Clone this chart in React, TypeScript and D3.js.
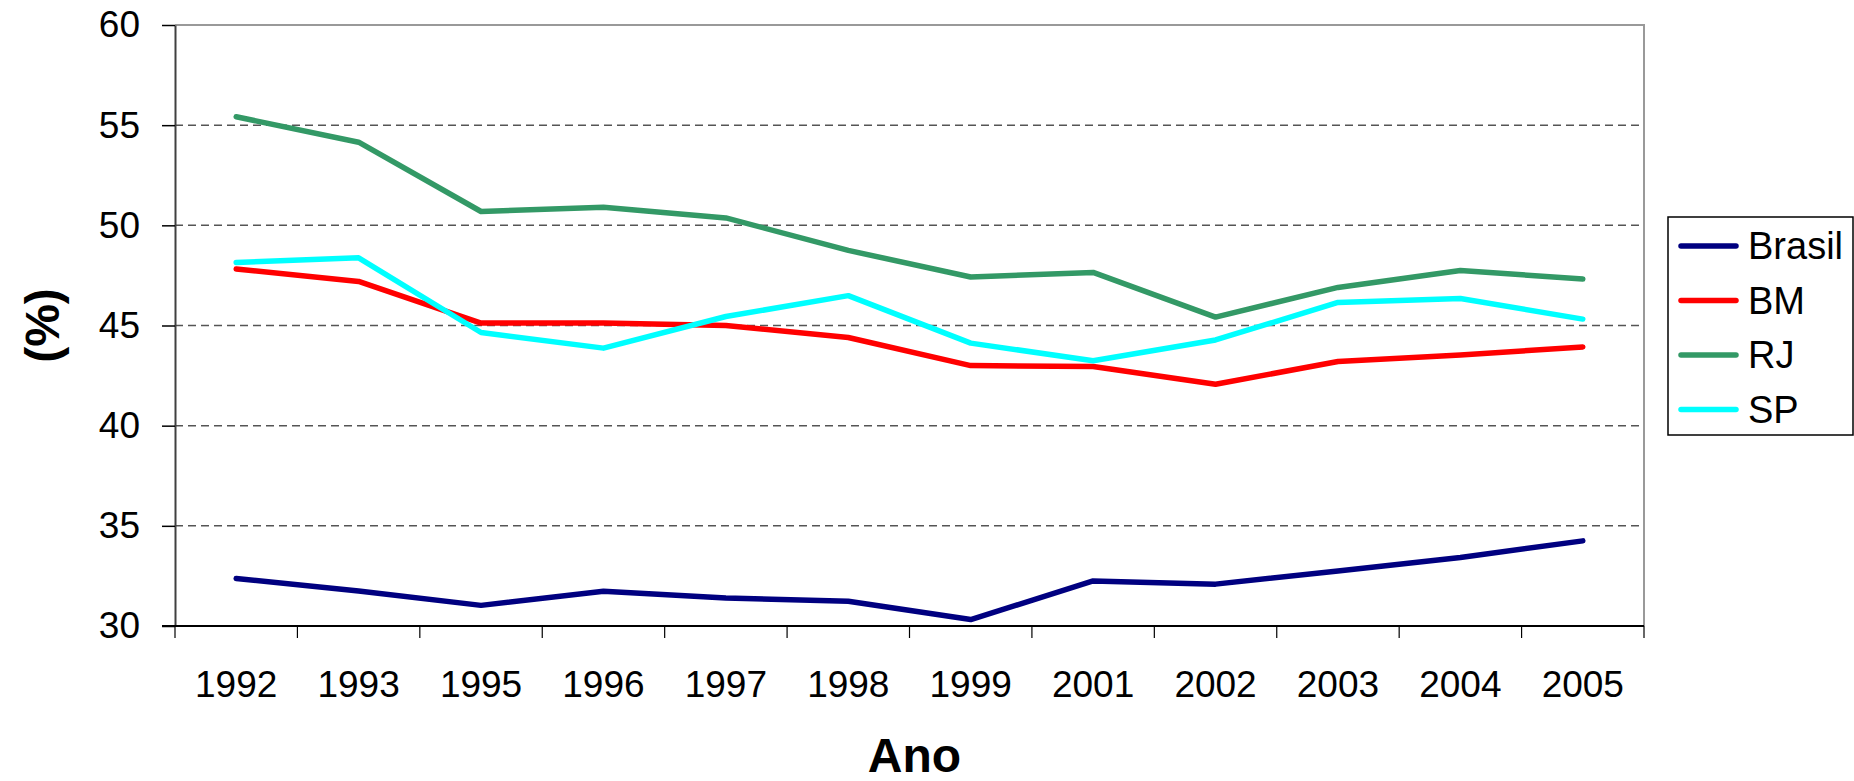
import { useEffect, useRef } from 'react'
import * as d3 from 'd3'

const years = ['1992', '1993', '1995', '1996', '1997', '1998', '1999', '2001', '2002', '2003', '2004', '2005']

const brasil = [32.37, 31.75, 31.03, 31.73, 31.4, 31.24, 30.32, 32.25, 32.09, 32.75, 33.42, 34.25]
const bm = [47.82, 47.2, 45.12, 45.12, 45.0, 44.4, 43.0, 42.95, 42.07, 43.2, 43.53, 43.93]
const rj = [55.42, 54.15, 50.69, 50.9, 50.37, 48.75, 47.42, 47.65, 45.42, 46.9, 47.75, 47.32]
const sp = [48.15, 48.38, 44.65, 43.87, 45.45, 46.49, 44.12, 43.24, 44.28, 46.15, 46.35, 45.32]

const seriesNames = ['Brasil', 'BM', 'RJ', 'SP']
const seriesColors = ['#000080', '#FF0000', '#339966', '#00FFFF']
const yTicks = [30, 35, 40, 45, 50, 55, 60]

const W = 1854
const H = 781
const font = "'Liberation Sans', Arial, sans-serif"

const App = () => {
  const svgRef = useRef<SVGSVGElement>(null)

  useEffect(() => {
    if (!svgRef.current) return
    const svg = d3.select(svgRef.current)
    svg.selectAll('*').remove()

    const plot = { left: 175, right: 1644, top: 25, bottom: 626 }

    const x = d3.scaleBand<string>().domain(years).range([plot.left, plot.right])
    const y = d3.scaleLinear().domain([30, 60]).range([plot.bottom, plot.top])

    // dashed gridlines
    svg.append('g')
      .selectAll('line')
      .data(yTicks.filter(t => t > 30 && t < 60))
      .enter()
      .append('line')
      .attr('x1', plot.left)
      .attr('x2', plot.right)
      .attr('y1', d => y(d))
      .attr('y2', d => y(d))
      .attr('stroke', '#555')
      .attr('stroke-width', 1.5)
      .attr('stroke-dasharray', '8,5')

    // top and right border of the plot area
    svg.append('path')
      .attr('d', `M${plot.left},${plot.top}H${plot.right}V${plot.bottom}`)
      .attr('fill', 'none')
      .attr('stroke', '#999')
      .attr('stroke-width', 2)

    // y axis
    const yAxis = svg.append('g')
      .attr('transform', `translate(${plot.left},0)`)
      .call(d3.axisLeft(y).tickValues(yTicks).tickSize(13).tickSizeOuter(0).tickPadding(22))
    yAxis.select('.domain').attr('stroke', '#404040').attr('stroke-width', 2)
    yAxis.selectAll('.tick line').attr('stroke', '#000').attr('stroke-width', 1.5)
    yAxis.selectAll('.tick text')
      .attr('fill', '#000')
      .style('font-family', font)
      .style('font-size', '37px')

    // x axis with ticks on category boundaries
    const xAxis = svg.append('g')
      .attr('transform', `translate(0,${plot.bottom})`)
    xAxis.append('line')
      .attr('x1', plot.left - 13)
      .attr('x2', plot.right)
      .attr('stroke', '#000')
      .attr('stroke-width', 2)
    xAxis.selectAll('.bound')
      .data(years.map(yr => x(yr) as number).concat([plot.right]))
      .enter()
      .append('line')
      .attr('class', 'bound')
      .attr('x1', d => d)
      .attr('x2', d => d)
      .attr('y1', 0)
      .attr('y2', 12)
      .attr('stroke', '#000')
      .attr('stroke-width', 1.2)
    xAxis.selectAll('.label')
      .data(years)
      .enter()
      .append('text')
      .attr('class', 'label')
      .attr('x', d => (x(d) as number) + x.bandwidth() / 2)
      .attr('y', 71)
      .attr('text-anchor', 'middle')
      .style('font-family', font)
      .style('font-size', '37px')
      .text(d => d)

    // lines
    const line = d3.line<number>()
      .x((_, i) => (x(years[i]) as number) + x.bandwidth() / 2)
      .y(d => y(d))

    const allSeries = [brasil, bm, rj, sp]
    svg.append('g')
      .selectAll('path')
      .data(allSeries)
      .enter()
      .append('path')
      .attr('d', d => line(d))
      .attr('fill', 'none')
      .attr('stroke', (_, i) => seriesColors[i])
      .attr('stroke-width', 5.5)
      .attr('stroke-linejoin', 'round')
      .attr('stroke-linecap', 'round')

    // axis titles
    svg.append('text')
      .attr('transform', `translate(42,${(plot.top + plot.bottom) / 2}) rotate(-90)`)
      .attr('text-anchor', 'middle')
      .attr('dominant-baseline', 'central')
      .style('font-family', font)
      .style('font-size', '48px')
      .style('font-weight', 'bold')
      .text('(%)')

    svg.append('text')
      .attr('x', (plot.left + plot.right) / 2 + 5)
      .attr('y', 772)
      .attr('text-anchor', 'middle')
      .style('font-family', font)
      .style('font-size', '48px')
      .style('font-weight', 'bold')
      .text('Ano')

    // legend
    const legend = svg.append('g').attr('transform', 'translate(1668,217)')
    legend.append('rect')
      .attr('width', 185)
      .attr('height', 218)
      .attr('fill', '#fff')
      .attr('stroke', '#000')
      .attr('stroke-width', 1.5)

    seriesNames.forEach((name, i) => {
      const row = legend.append('g').attr('transform', `translate(0,${29 + i * 54.5})`)
      row.append('line')
        .attr('x1', 13)
        .attr('x2', 68)
        .attr('stroke', seriesColors[i])
        .attr('stroke-width', 5.5)
        .attr('stroke-linecap', 'round')
      row.append('text')
        .attr('x', 80)
        .attr('y', 0)
        .attr('dominant-baseline', 'central')
        .style('font-family', font)
        .style('font-size', '38px')
        .text(name)
    })
  }, [])

  return (
    <svg
      ref={svgRef}
      width={W}
      height={H}
      viewBox={`0 0 ${W} ${H}`}
      style={{ position: 'absolute', left: 0, top: 0, background: '#fff' }}
    />
  )
}

export default App
